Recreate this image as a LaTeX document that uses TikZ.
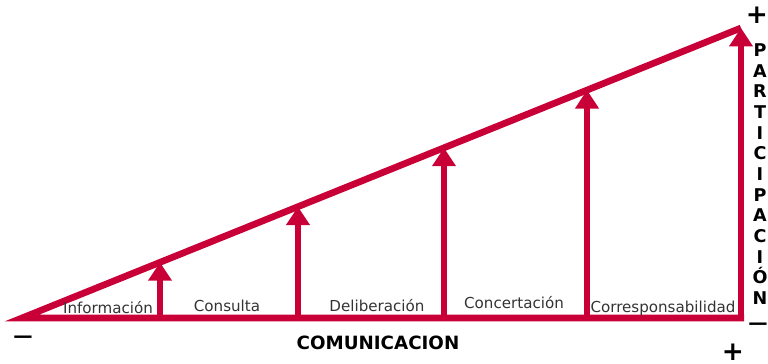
\documentclass[tikz,border=0pt]{standalone}
\usepackage{fontspec}
\setmainfont{DejaVu Sans}
\usetikzlibrary{arrows.meta}
\definecolor{wine}{RGB}{200,0,55}
\tikzstyle{edge} = [line width=3.8pt, draw=wine, line join=miter]
\tikzstyle{arrow} = [line width=3.4pt, draw=wine, -{Triangle[length=10.5pt, width=13pt]}]
\tikzstyle{stage} = [font=\fontsize{8.6}{10}\selectfont, text=black!80, inner sep=0pt]
\tikzstyle{axis} = [font=\fontsize{10.4}{12}\selectfont\bfseries, inner sep=0pt]
\tikzstyle{sign} = [font=\fontsize{15}{16}\selectfont\bfseries, inner sep=0pt]
\tikzstyle{minussign} = [font=\fontsize{11}{12}\selectfont\bfseries, inner sep=0pt]

\begin{document}
\begin{tikzpicture}[x=0.02cm, y=-0.02cm]
		\useasboundingbox (0,0) rectangle (768,364);
		\coordinate (o) at (22,318);
		\coordinate (end) at (744,318);
		\coordinate (b1) at (160,318);
		\coordinate (t1) at (160,262.3);
		\coordinate (b2) at (298,318);
		\coordinate (t2) at (298,206.7);
		\coordinate (b3) at (444,318);
		\coordinate (t3) at (444,147.8);
		\coordinate (b4) at (587,318);
		\coordinate (t4) at (587,90.1);
		\coordinate (b5) at (741,318);
		\coordinate (t5) at (741,28);
		\draw [edge] (t5) -- (o) -- (end);
		\draw [arrow] (b1) -- (t1);
		\draw [arrow] (b2) -- (t2);
		\draw [arrow] (b3) -- (t3);
		\draw [arrow] (b4) -- (t4);
		\draw [arrow] (b5) -- (t5);
		\node (info) [stage] at (108,308) {Información};
		\node (cons) [stage] at (227,306) {Consulta};
		\node (delib) [stage] at (377,306) {Deliberación};
		\node (conc) [stage] at (514,303) {Concertación};
		\node (corr) [stage] at (663,308) {Corresponsabilidad};
		\node (com) [axis] at (378,343) {COMUNICACION};
		\node (part) [axis, text width=9pt, align=center, font=\fontsize{10}{11.77}\selectfont\bfseries] at (760,174) {P\\A\\R\\T\\I\\C\\I\\P\\A\\C\\I\\Ó\\N};
		\node (plustop) [sign] at (757,15) {+};
		\node (minusright) [minussign] at (758,326) {—};
		\node (plusbottom) [sign] at (733,352) {+};
		\node (minusleft) [minussign] at (23,339) {—};
\end{tikzpicture}
\end{document}
